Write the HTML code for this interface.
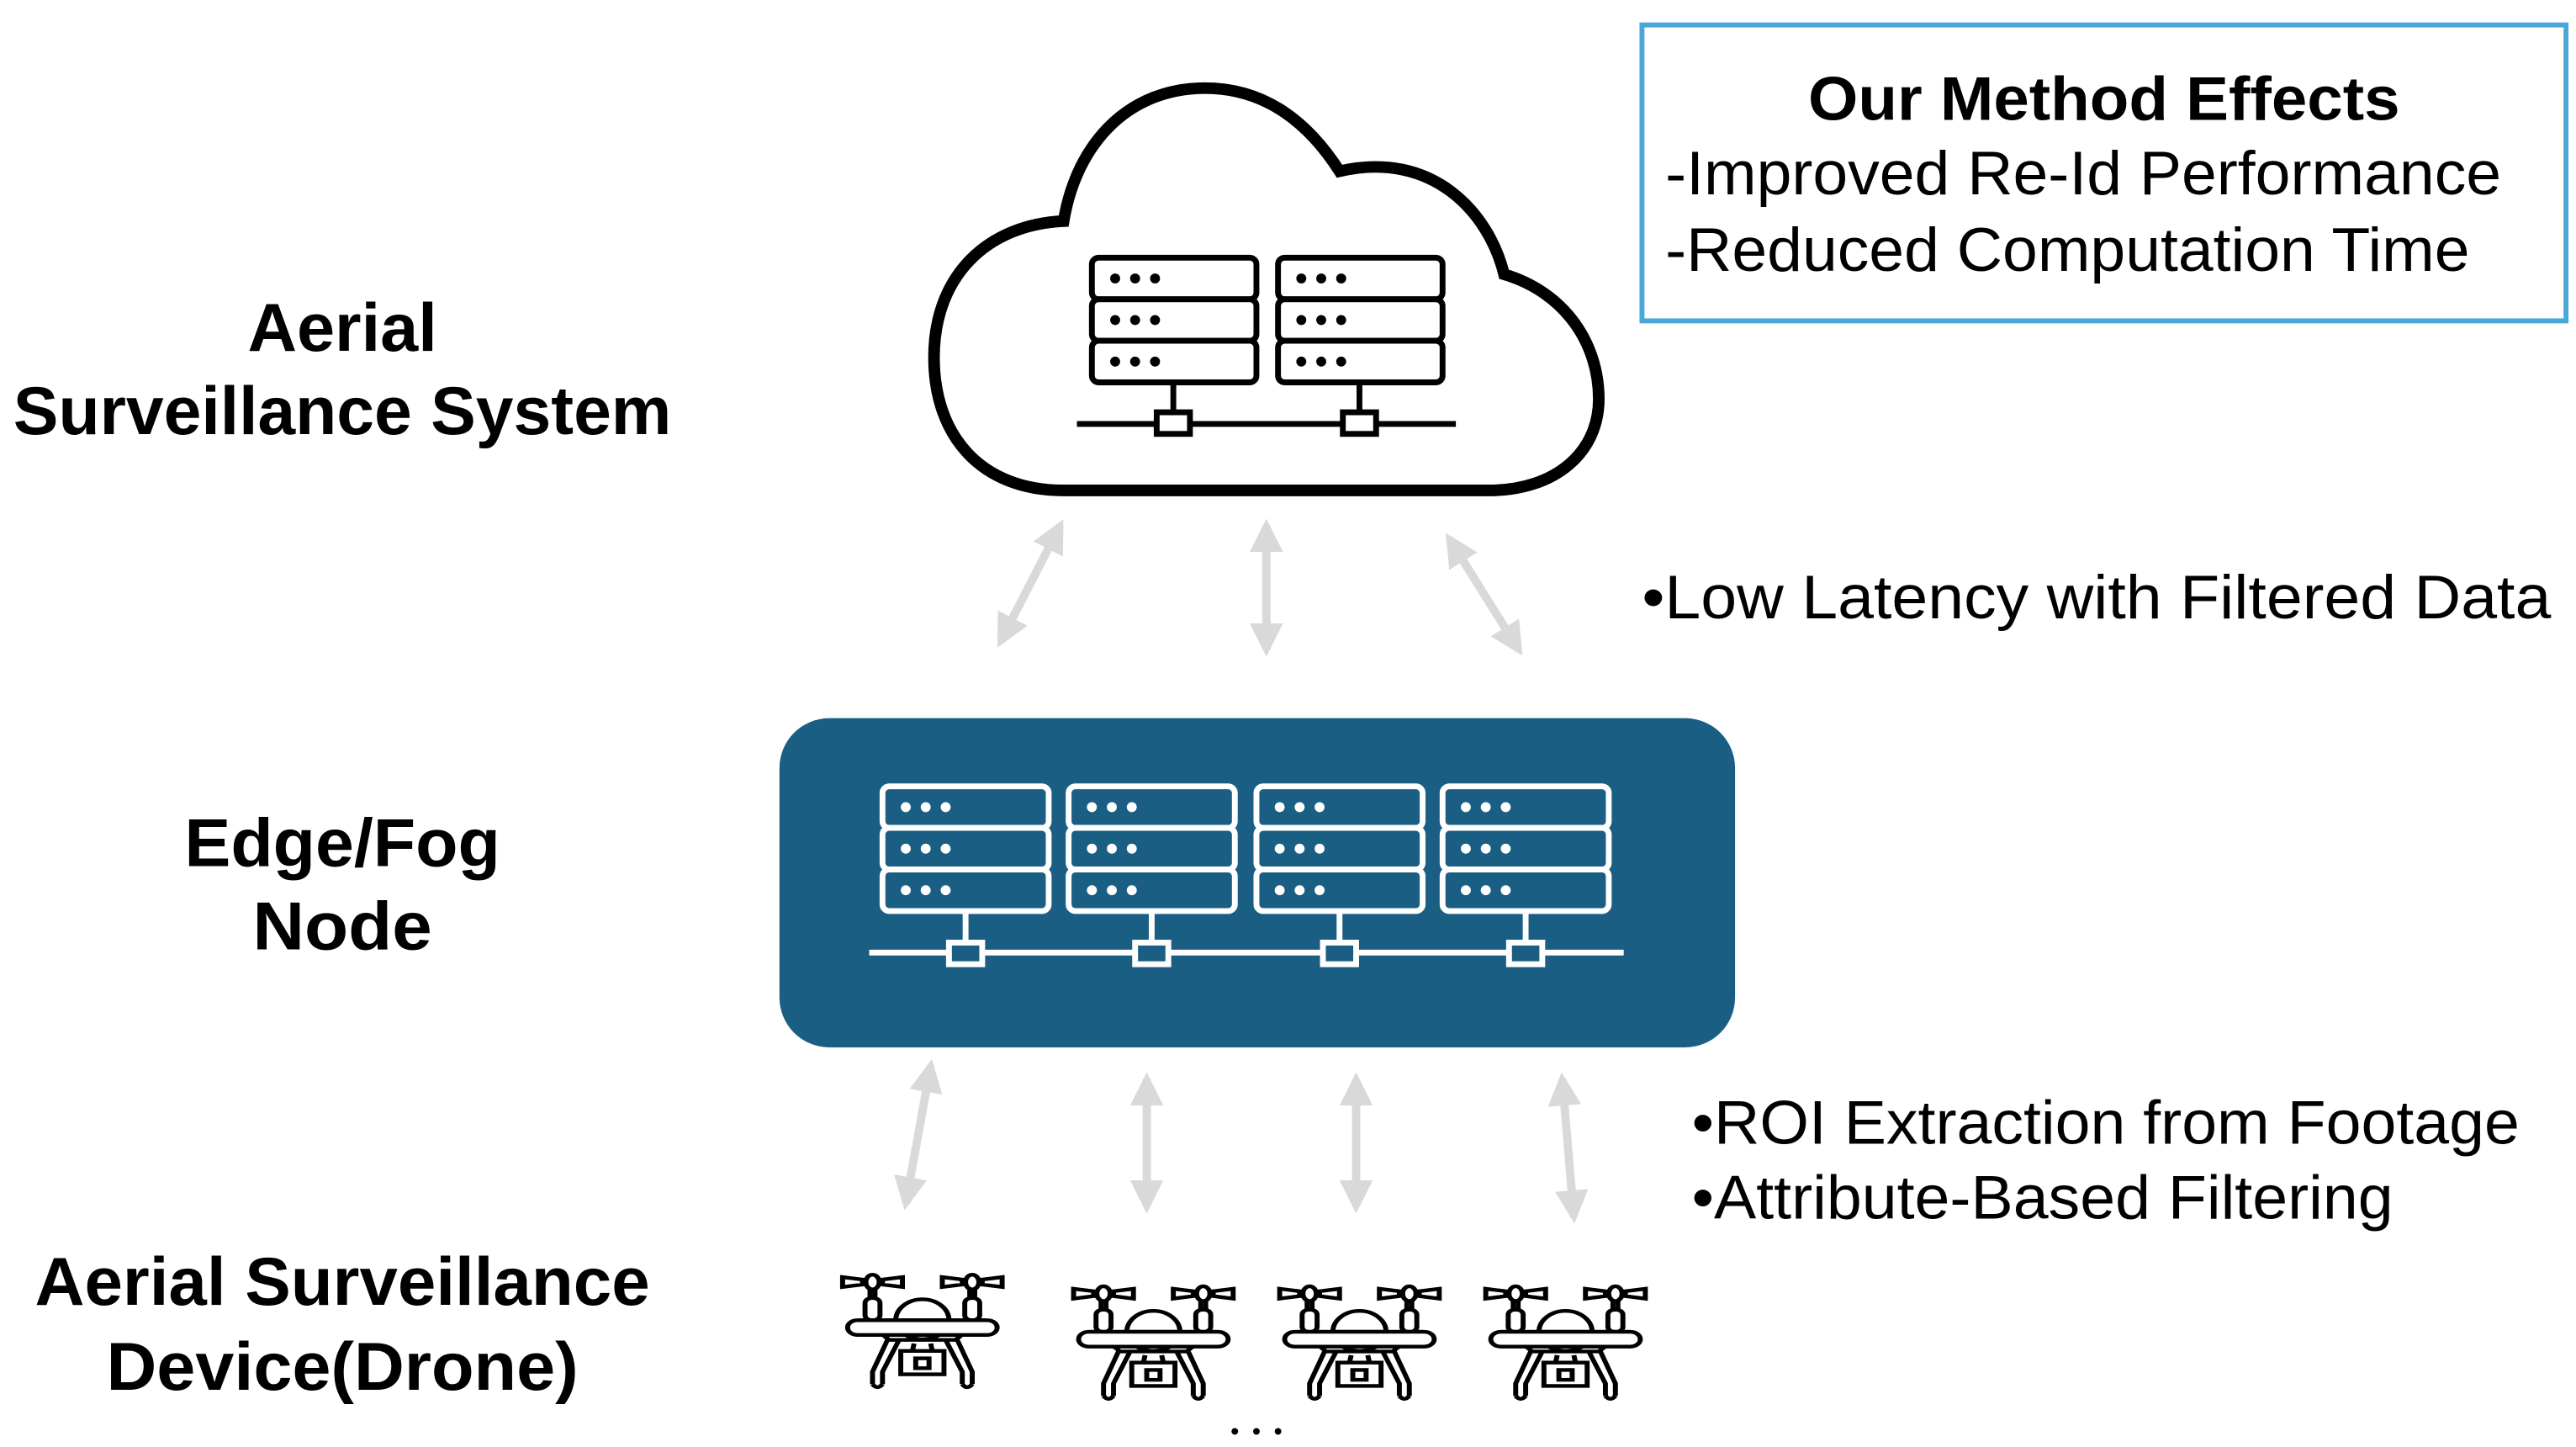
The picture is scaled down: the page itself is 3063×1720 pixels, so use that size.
<!DOCTYPE html>
<html><head><meta charset="utf-8"><style>html,body{margin:0;padding:0;background:#fff}svg{display:block}</style></head>
<body>
<svg width="3063" height="1720" viewBox="0 0 1550 870.4" preserveAspectRatio="none" xmlns="http://www.w3.org/2000/svg" font-family="'Liberation Sans', 'Noto Sans CJK KR', sans-serif">
<defs>
  <marker id="ah" viewBox="0 0 10 10" refX="8" refY="5" markerWidth="4" markerHeight="4" orient="auto-start-reverse">
    <path d="M0,0 L10,5 L0,10 Z" fill="#d9d9d9"/>
  </marker>
  <g id="srvB">
    <rect x="0" y="0" width="99" height="25" rx="4" fill="none" stroke="#000" stroke-width="3.5"/>
    <rect x="0" y="25" width="99" height="25" rx="4" fill="none" stroke="#000" stroke-width="3.5"/>
    <rect x="0" y="50" width="99" height="25" rx="4" fill="none" stroke="#000" stroke-width="3.5"/>
    <g fill="#000"><circle cx="14" cy="12.5" r="3"/><circle cx="26" cy="12.5" r="3"/><circle cx="38" cy="12.5" r="3"/>
    <circle cx="14" cy="37.5" r="3"/><circle cx="26" cy="37.5" r="3"/><circle cx="38" cy="37.5" r="3"/>
    <circle cx="14" cy="62.5" r="3"/><circle cx="26" cy="62.5" r="3"/><circle cx="38" cy="62.5" r="3"/></g>
  </g>
  <g id="srvW">
    <rect x="0" y="0" width="100" height="25" rx="4" fill="none" stroke="#fff" stroke-width="3.5"/>
    <rect x="0" y="25" width="100" height="25" rx="4" fill="none" stroke="#fff" stroke-width="3.5"/>
    <rect x="0" y="50" width="100" height="25" rx="4" fill="none" stroke="#fff" stroke-width="3.5"/>
    <g fill="#fff"><circle cx="14" cy="12.5" r="3"/><circle cx="26" cy="12.5" r="3"/><circle cx="38" cy="12.5" r="3"/>
    <circle cx="14" cy="37.5" r="3"/><circle cx="26" cy="37.5" r="3"/><circle cx="38" cy="37.5" r="3"/>
    <circle cx="14" cy="62.5" r="3"/><circle cx="26" cy="62.5" r="3"/><circle cx="38" cy="62.5" r="3"/></g>
    <line x1="50" y1="75" x2="50" y2="94" stroke="#fff" stroke-width="3.5"/>
    <rect x="40" y="94" width="20" height="13" fill="#1a5f83" stroke="#fff" stroke-width="3.5"/>
  </g>
  <g id="drone" fill="#fff" stroke="#000" stroke-width="3">
    <path d="M2,3 L14,5 L14,9 L2,11 Z M38,3 L26,5 L26,9 L38,11 Z"/>
    <ellipse cx="20" cy="7" rx="4" ry="6"/>
    <path d="M62,3 L74,5 L74,9 L62,11 Z M98,3 L86,5 L86,9 L98,11 Z"/>
    <ellipse cx="80" cy="7" rx="4" ry="6"/>
    <line x1="18.5" y1="13" x2="18.5" y2="22"/><line x1="21.5" y1="13" x2="21.5" y2="22"/>
    <line x1="78.5" y1="13" x2="78.5" y2="22"/><line x1="81.5" y1="13" x2="81.5" y2="22"/>
    <rect x="15.5" y="20" width="9" height="18" rx="4"/><rect x="75.5" y="20" width="9" height="18" rx="4"/>
    <path d="M34,38 A16,17 0 0 1 66,38 Z"/>
    <path d="M15,38 L30,54 L70,54 L85,38 Z M29,54 L20,80 L20,90 M36,54 L26,80 L26,90 M71,54 L80,80 L80,90 M64,54 L74,80 L74,90" fill="none"/>
    <path d="M20,90 Q23,95 26,90 M74,90 Q77,95 80,90" fill="none"/>
    <path d="M34,45 Q50,62 66,45" fill="none"/>
    <rect x="5" y="38" width="90" height="12" rx="6"/>
    <line x1="45" y1="57" x2="44" y2="63"/><line x1="55" y1="57" x2="56" y2="63"/>
    <rect x="37" y="63" width="26" height="19"/>
    <rect x="46" y="69" width="8" height="8"/>
  </g>
</defs>

<!-- Cloud -->
<path d="M640,295 C590,295 562,262 562,215 C562,165 595,135 640,133 C648,85 680,53 725,53 C765,53 790,78 806,103 C862,90 896,128 905,165 C942,176 962,207 962,240 C962,272 936,295 896,295 Z" fill="#fff" stroke="#000" stroke-width="7"/>
<use href="#srvB" x="657" y="155"/>
<use href="#srvB" x="769" y="155"/>
<line x1="706" y1="230" x2="706" y2="248" stroke="#000" stroke-width="3.5"/>
<line x1="818" y1="230" x2="818" y2="248" stroke="#000" stroke-width="3.5"/>
<line x1="648" y1="255" x2="876" y2="255" stroke="#000" stroke-width="3.5"/>
<rect x="696" y="248" width="20" height="13" fill="#fff" stroke="#000" stroke-width="3.5"/>
<rect x="808" y="248" width="20" height="13" fill="#fff" stroke="#000" stroke-width="3.5"/>

<!-- Edge box -->
<rect x="469" y="432" width="575" height="198" rx="30" fill="#1a5f83"/>
<line x1="523" y1="573" x2="977" y2="573" stroke="#fff" stroke-width="3.5"/>
<use href="#srvW" x="531" y="473"/>
<use href="#srvW" x="643" y="473"/>
<use href="#srvW" x="756" y="473"/>
<use href="#srvW" x="868" y="473"/>

<!-- arrows -->
<g stroke="#d9d9d9" stroke-width="5" marker-start="url(#ah)" marker-end="url(#ah)">
  <line x1="602" y1="386" x2="638" y2="316"/>
  <line x1="762" y1="316" x2="762" y2="391"/>
  <line x1="872" y1="324" x2="914" y2="391"/>
  <line x1="560" y1="641" x2="545" y2="724"/>
  <line x1="690" y1="649" x2="690" y2="726"/>
  <line x1="816" y1="649" x2="816" y2="726"/>
  <line x1="940" y1="649" x2="947" y2="732"/>
</g>

<!-- drones -->
<use href="#drone" transform="translate(505,766) scale(1,0.74)"/>
<use href="#drone" transform="translate(644,773) scale(1,0.74)"/>
<use href="#drone" transform="translate(768,773) scale(1,0.74)"/>
<use href="#drone" transform="translate(892,773) scale(1,0.74)"/>
<g fill="#000"><circle cx="743" cy="861" r="2"/><circle cx="756" cy="861" r="2"/><circle cx="769" cy="861" r="2"/></g>

<!-- left labels -->
<g font-weight="bold" font-size="41" text-anchor="middle" fill="#000">
  <text x="206" y="211" textLength="114" lengthAdjust="spacingAndGlyphs">Aerial</text>
  <text x="206" y="261" textLength="396" lengthAdjust="spacingAndGlyphs">Surveillance System</text>
  <text x="206" y="521" textLength="190" lengthAdjust="spacingAndGlyphs">Edge/Fog</text>
  <text x="206" y="571" textLength="108" lengthAdjust="spacingAndGlyphs">Node</text>
  <text x="206" y="785" textLength="370" lengthAdjust="spacingAndGlyphs">Aerial Surveillance</text>
  <text x="206" y="836" textLength="284" lengthAdjust="spacingAndGlyphs">Device(Drone)</text>
</g>

<!-- effects box -->
<rect x="988" y="15" width="556" height="178" fill="none" stroke="#4aa8d8" stroke-width="3"/>
<text x="1266" y="72" font-size="37" font-weight="bold" text-anchor="middle" textLength="356" lengthAdjust="spacingAndGlyphs">Our Method Effects</text>
<text x="1002" y="117" font-size="37" textLength="503" lengthAdjust="spacingAndGlyphs">-Improved Re-Id Performance</text>
<text x="1002" y="163" font-size="37" textLength="484" lengthAdjust="spacingAndGlyphs">-Reduced Computation Time</text>

<text x="988" y="372" font-size="37" textLength="547" lengthAdjust="spacingAndGlyphs">•Low Latency with Filtered Data</text>
<text x="1018" y="688" font-size="37" textLength="498" lengthAdjust="spacingAndGlyphs">•ROI Extraction from Footage</text>
<text x="1018" y="733" font-size="37" textLength="422" lengthAdjust="spacingAndGlyphs">•Attribute-Based Filtering</text>
</svg>
</body></html>
